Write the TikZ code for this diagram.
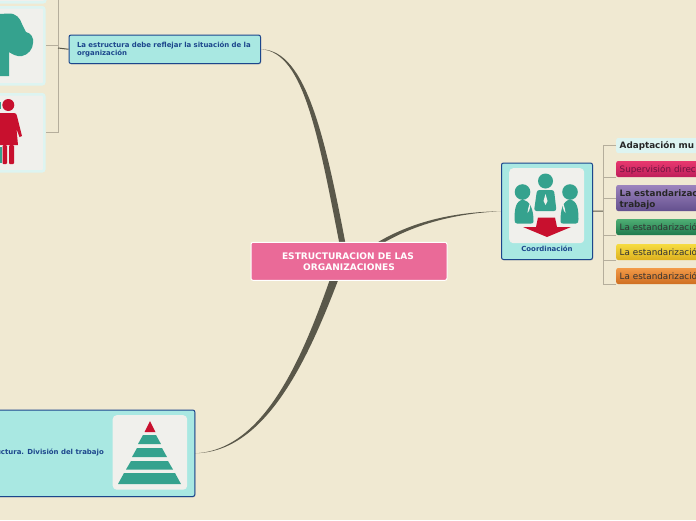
\documentclass[tikz,border=0pt]{standalone}
\usepackage{fontspec}
\usetikzlibrary{shadows}
\setmainfont{DejaVu Sans}
\definecolor{bg}{HTML}{F0E9D2}
\definecolor{aqua}{HTML}{A9E8E2}
\definecolor{navy}{HTML}{1C468C}
\definecolor{ink}{HTML}{5A584A}
\definecolor{lineg}{HTML}{B5AE9C}
\definecolor{teal}{HTML}{35A28E}
\definecolor{crim}{HTML}{C8102E}
\definecolor{cardc}{HTML}{F0F0EC}
\definecolor{glow}{HTML}{DDF4F1}
\definecolor{HTMLpink}{HTML}{EA6A98}
\definecolor{HTMLr1}{HTML}{E8386F}
\definecolor{HTMLr2}{HTML}{BE1E5A}
\definecolor{HTMLr3}{HTML}{6E1440}
\definecolor{HTMLp1}{HTML}{9C84BE}
\definecolor{HTMLp2}{HTML}{64508E}
\definecolor{HTMLg1}{HTML}{4FAE74}
\definecolor{HTMLg2}{HTML}{1F7A4C}
\definecolor{HTMLy1}{HTML}{F6DC40}
\definecolor{HTMLy2}{HTML}{DDB01E}
\definecolor{HTMLo1}{HTML}{F29A48}
\definecolor{HTMLo2}{HTML}{CF6E20}
\newcommand{\lowone}{\rule{0pt}{8.6pt}}
\newcommand{\lowtwo}{\rule{0pt}{9.6pt}}
\tikzset{
  x=1pt,y=-1pt,
  bluebox/.style={draw=navy,line width=1pt,fill=aqua,rounded corners=2pt,inner sep=0pt,text=navy,font=\bfseries\fontsize{6.95}{8}\selectfont,drop shadow={shadow xshift=.7pt,shadow yshift=-.9pt,opacity=.35}},
  iconcard/.style={fill=cardc,rounded corners=4pt,inner sep=0pt},
  glowcard/.style={fill=cardc,draw=glow,line width=2.5pt,rounded corners=2pt,inner sep=0pt},
  subbox/.style={anchor=west,minimum width=100pt,rounded corners=2pt,inner xsep=3.5pt,inner ysep=0pt,align=left,text width=93pt,font=\fontsize{8.8}{11}\selectfont},
  twig/.style={draw=lineg,line width=1pt},
  stub/.style={draw=ink,line width=1pt},
  taper/.style={fill=ink,draw=none}
}
\begin{document}
\begin{tikzpicture}
\useasboundingbox (0,0) rectangle (696,520);
\clip (0,0) rectangle (696,520);
\fill[bg] (0,0) rectangle (696,520);

% boxes
\node[bluebox,anchor=north west,minimum width=191.5pt,minimum height=28.5pt,align=left,text width=175.5pt,inner xsep=8pt] (struct) at (68.5,34.5) {La estructura debe reflejar la situación de la\\organización};
\node[bluebox,anchor=north west,minimum width=91pt,minimum height=96.5pt] (coord) at (501,162.5) {};
\node[bluebox,anchor=north east,minimum width=215pt,minimum height=86.5pt] (div) at (195.3,409.5) {};

% tapered connectors
\fill[taper] (struct.east) .. controls (305,52) and (319,140) .. (343,262) -- (349,262) .. controls (326,140) and (307,50) .. (struct.east) -- cycle;
\fill[taper] (div.east) .. controls (270,450) and (309,340) .. (336,262) -- (345,262) .. controls (315,342) and (272,452) .. (div.east) -- cycle;
\fill[taper] (coord.west) .. controls (440,212) and (390,228) .. (350,262) -- (356,262) .. controls (392,232) and (440,214) .. (coord.west) -- cycle;

% central topic
\node[draw=white,line width=1pt,fill=HTMLpink,rounded corners=2pt,minimum width=196pt,minimum height=38pt,inner sep=0pt,align=center,text=white,font=\bfseries\fontsize{9.05}{11}\selectfont,anchor=north west] (center) at (250.5,241.8) {ESTRUCTURACION DE LAS\hspace*{2pt}\\ORGANIZACIONES};

% left cluster
\node[glowcard,anchor=north west,minimum width=68pt,minimum height=42pt] (card0) at (-24,-41) {};
\node[glowcard,anchor=north west,minimum width=68pt,minimum height=77pt] (tree) at (-25,6) {};
\node[glowcard,anchor=north west,minimum width=68pt,minimum height=77pt] (woman) at (-25,93) {};
\coordinate (spine) at (58,48);
\coordinate (spinetop) at (58,-5);
\draw[twig] (spinetop) -- (tree.east -| spine) -- (tree.east);
\draw[twig] (spinetop) |- (woman.east);
\draw[stub] (struct.west) -- (spine);

% tree
\fill[teal] (0,14) -- (8,13.5) .. controls (16,13) and (20,18) .. (22,24) -- (26,32)
  .. controls (31,33) and (34,38) .. (33,43) .. controls (33,49) and (28,55) .. (22,56)
  .. controls (17,57) and (12,54) .. (9,52) -- (9,76) -- (0,76) -- cycle;

% woman
\fill[teal] (0,102) rectangle (1,109);
\fill[teal] (0,147) rectangle (2,163);
\fill[crim] (8.3,105) circle (6);
\fill[crim] (0,113) -- (14,113) .. controls (16,113) and (16.5,114) .. (17,116) -- (22,136) -- (19.5,137) -- (16.5,129) -- (18,145) -- (0,145) -- cycle;
\fill[crim,rounded corners=1pt] (2.5,145) rectangle (7,164);
\fill[crim,rounded corners=1pt] (9,145) rectangle (14,164);

% coordination card
\node[iconcard,anchor=north west,minimum width=75pt,minimum height=75pt] (ccard) at (509,168) {};
\fill[teal] (522.5,192) circle (7.8);
\fill[teal] (570,192) circle (7.8);
\fill[teal] (545.5,181) circle (7.5);
\fill[teal] (517,223.5) .. controls (515,223.5) and (514.5,222) .. (514.5,219) .. controls (514.5,208) and (516,201) .. (523,199.5) .. controls (530,201) and (533.5,209) .. (533.5,221) .. controls (533.5,223) and (533,223.5) .. (531,223.5) -- cycle;
\fill[teal] (576,223.5) .. controls (578,223.5) and (578.5,222) .. (578.5,219) .. controls (578.5,208) and (577,201) .. (570,199.5) .. controls (563,201) and (560.5,209) .. (560.5,221) .. controls (560.5,223) and (561,223.5) .. (563,223.5) -- cycle;
\fill[cardc] (530,203) .. controls (530.5,207) and (530,210) .. (527.5,213) .. controls (528,209) and (528.5,206) .. (530,203) -- cycle;
\fill[cardc] (563,203) .. controls (562.5,207) and (563,210) .. (565.5,213) .. controls (565,209) and (564.5,206) .. (563,203) -- cycle;
\fill[teal,rounded corners=2.5pt] (537,190) -- (554,190) -- (556.5,211) -- (534,211) -- cycle;
\fill[cardc] (545.5,194) -- (547.5,201) -- (545.5,205) -- (543.5,201) -- cycle;
\fill[crim] (538,217.5) -- (555,217.5) -- (557,227) -- (571,227) -- (547,237) -- (523,227) -- (536,227) -- cycle;
\node[text=navy,font=\bfseries\fontsize{6.95}{8}\selectfont,inner sep=0pt] (coordlabel) at (547,249) {Coordinación};

% sub-topics
\node[subbox,fill=glow,text=black!85,minimum height=15pt,font=\bfseries\fontsize{8.8}{10}\selectfont] (n1) at (616,145.5) {\lowone Adaptación mu};
\node[subbox,top color=HTMLr1,bottom color=HTMLr2,text=HTMLr3,minimum height=16pt] (n2) at (616,169) {\lowone Supervisión direc};
\node[subbox,top color=HTMLp1,bottom color=HTMLp2,text=black!85,minimum height=26pt,font=\bfseries\fontsize{8.8}{11}\selectfont] (n3) at (616,198) {\lowtwo La estandarizac\\trabajo};
\node[subbox,top color=HTMLg1,bottom color=HTMLg2,text=black!80,minimum height=16pt] (n4) at (616,227) {La estandarizació};
\node[subbox,top color=HTMLy1,bottom color=HTMLy2,text=black!80,minimum height=16pt] (n5) at (616,252) {La estandarizació};
\node[subbox,top color=HTMLo1,bottom color=HTMLo2,text=black!80,minimum height=16pt] (n6) at (616,276) {La estandarizació};

\coordinate (rs) at (603,211);
\draw[stub] (coord.east) -- (rs);
\draw[twig] (n1.west) -| (rs);
\draw[twig] (n2.south west) -| (rs);
\draw[twig] (n3.west) -| (rs);
\draw[twig] (n4.south west) -| (rs);
\draw[twig] (n5.south west) -| (rs);
\draw[twig] (n6.south west) -| (rs);

% division box contents
\node[iconcard,anchor=north west,minimum width=74.5pt,minimum height=74.5pt] (pcard) at (112.5,415) {};
\fill[crim] (150,421) -- (155.5,432) -- (144.5,432) -- cycle;
\fill[teal] (143,435) -- (156,435) -- (161,444) -- (138,444) -- cycle;
\fill[teal] (137,448) -- (162,448) -- (167,457) -- (132,457) -- cycle;
\fill[teal] (131,461) -- (168,461) -- (173,469.5) -- (126,469.5) -- cycle;
\fill[teal] (124,473) -- (175,473) -- (181,484) -- (118,484) -- cycle;
\node[text=navy,font=\bfseries\fontsize{6.95}{8}\selectfont,anchor=east,inner sep=0pt] (divlabel) at (104,452.5) {uctura. División del trabajo};
\end{tikzpicture}
\end{document}
